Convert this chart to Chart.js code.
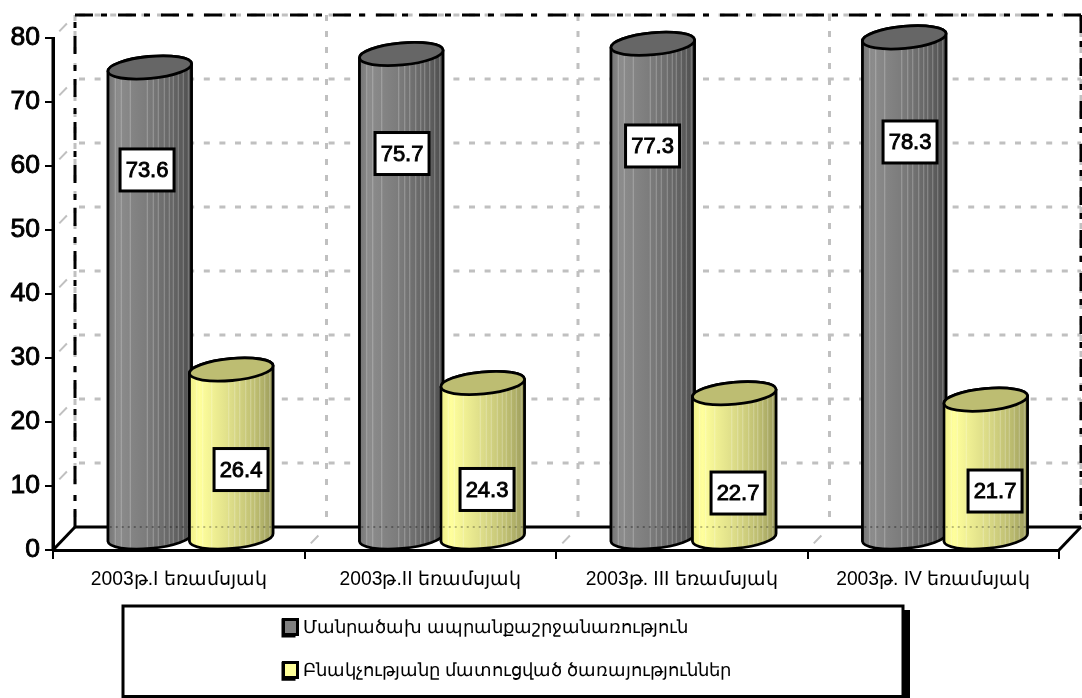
<!DOCTYPE html>
<html><head><meta charset="utf-8">
<style>html,body{margin:0;padding:0;background:#fff;overflow:hidden}canvas{display:block}</style>
<script src="https://cdn.jsdelivr.net/npm/chart.js@4"></script>
</head><body>
<canvas id="c" width="1082" height="698"></canvas>
<script>
const categories = ["2003թ.I եռամսյակ", "2003թ.II եռամսյակ", "2003թ. III եռամսյակ", "2003թ. IV եռամսյակ"];
const seriesNames = ["Մանրածախ ապրանքաշրջանառություն", "Բնակչությանը մատուցված ծառայություններ"];
const retailTrade = [73.6, 75.7, 77.3, 78.3];
const servicesToPopulation = [26.4, 24.3, 22.7, 21.7];
const labelNudges = [
  [[9.8,91],[13.3,88],[12.3,90.7],[18.3,93.1]],
  [[20.8,88.5],[15.3,95],[14.8,88.3],[20.3,79.9]]
];
const stripeOffsets = [7,13,22,39,45,50,56,61,65,70,75,80];
const FONT = '"Liberation Sans","Noto Sans",sans-serif';
const DX = 22, DY = 23;
const themes = [
  {shift:12.5, top:'#666666', stops:[[0,'#747474'],[.12,'#8c8c8c'],[.5,'#7a7a7a'],[.8,'#636363'],[1,'#4e4e4e']], stripe:'rgba(255,255,255,.28)', dots:'rgba(0,0,0,.3)'},
  {shift:11, top:'#bdbd72', stops:[[0,'#eeee88'],[.12,'#ffff9c'],[.5,'#dcdc88'],[.8,'#bcbc70'],[1,'#9c9c5c']], stripe:'rgba(255,255,255,.28)', dots:'rgba(0,0,0,.25)'}
];
function line(ctx,x1,y1,x2,y2){ctx.beginPath();ctx.moveTo(x1,y1);ctx.lineTo(x2,y2);ctx.stroke();}
function drawWalls(chart){
  const ctx=chart.ctx, ys=chart.scales.y, a=chart.chartArea;
  const L=a.left,R=a.right,T=ys.getPixelForValue(80),B=ys.getPixelForValue(0);
  const edges=[L+(R-L)/4,L+(R-L)/2,L+3*(R-L)/4];
  ctx.save();
  ctx.strokeStyle='#c0c0c0';ctx.lineWidth=3;ctx.setLineDash([6,9.6]);
  ys.ticks.forEach(t=>{ if(t.value===0) return; const y=ys.getPixelForValue(t.value)-DY; line(ctx,L+DX+4,y,R+DX,y);});
  ctx.setLineDash([6,10]);
  edges.concat([L,R]).forEach(x=>line(ctx,x+DX,T-DY,x+DX,B-DY));
  ctx.lineWidth=2;ctx.setLineDash([0.1,9,11,30]);
  ys.ticks.forEach(t=>{ if(t.value===0) return; const y=ys.getPixelForValue(t.value); line(ctx,L,y,L+DX,y-DY);});
  edges.forEach(x=>line(ctx,x,B,x+DX,B-DY));
  ctx.strokeStyle='#000';ctx.lineWidth=3;ctx.setLineDash([18,8,6,11]);
  line(ctx,L+DX,T-DY,R+DX,T-DY);
  line(ctx,L+DX,B-DY,L+DX,T-DY);
  line(ctx,R+DX,T-DY,R+DX,B-DY);
  ctx.setLineDash([]);
  line(ctx,L+DX,B-DY,R+DX,B-DY);
  line(ctx,L,B,L+DX,B-DY);
  line(ctx,R,B,R+DX,B-DY);
  line(ctx,L,T,L,B+1);
  ctx.restore();
}
function drawCylinder(ctx,el,th,floorY){
  const rx=el.width/2+.5, ry=11, rot=-5.4*Math.PI/180;
  const cx=el.x+th.shift, yt=el.y-DY/2, yb=el.base-DY/2;
  const body=()=>{ctx.beginPath();ctx.ellipse(cx,yb,rx,ry,rot,0,Math.PI);ctx.ellipse(cx,yt,rx,ry,rot,Math.PI,2*Math.PI);ctx.closePath();};
  ctx.save();
  const g=ctx.createLinearGradient(cx-rx,0,cx+rx,0);
  th.stops.forEach(s=>g.addColorStop(s[0],s[1]));
  body();ctx.fillStyle=g;ctx.fill();
  ctx.save();body();ctx.clip();
  ctx.strokeStyle=th.stripe;ctx.lineWidth=1;
  stripeOffsets.forEach(o=>line(ctx,cx-rx+o+.5,yt,cx-rx+o+.5,yb+ry+2));
  ctx.strokeStyle=th.dots;ctx.lineWidth=2;ctx.setLineDash([2,4]);
  line(ctx,cx-rx+2,floorY,cx+rx,floorY);
  ctx.restore();
  body();ctx.strokeStyle='#000';ctx.lineWidth=2.8;ctx.lineJoin='round';ctx.stroke();
  ctx.beginPath();ctx.ellipse(cx,yt,rx,ry,rot,0,2*Math.PI);
  ctx.fillStyle=th.top;ctx.fill();ctx.stroke();
  ctx.restore();
}
const cylinderPlugin={
  id:'cylinders',
  afterLayout(chart){
    const l=chart.legend;
    l.left=258;l.top=594;l.right=900;l.bottom=900;
  },
  beforeDraw(chart){
    const ctx=chart.ctx;
    ctx.save();
    ctx.fillStyle='#fff';ctx.fillRect(0,0,1082,698);
    ctx.fillStyle='#000';ctx.fillRect(127,610,783,88);
    ctx.fillStyle='#fff';ctx.fillRect(123,606,780,91);
    ctx.strokeStyle='#000';ctx.lineWidth=3;ctx.strokeRect(123,606,780,90.5);
    ctx.restore();
  },
  beforeDatasetsDraw(chart){
    drawWalls(chart);
    const floorY=chart.scales.y.getPixelForValue(0)-DY;
    chart.data.datasets.forEach((d,i)=>chart.getDatasetMeta(i).data.forEach(el=>drawCylinder(chart.ctx,el,themes[i],floorY)));
  },
  beforeDatasetDraw(){return false;},
  afterDatasetsDraw(chart){
    const ctx=chart.ctx;
    ctx.save();
    chart.data.datasets.forEach((d,i)=>chart.getDatasetMeta(i).data.forEach((el,j)=>{
      const cx=el.x+labelNudges[i][j][0], cy=el.y+labelNudges[i][j][1];
      ctx.fillStyle='#fff';ctx.fillRect(cx-27,cy-21,54,42);
      ctx.strokeStyle='#000';ctx.lineWidth=3;ctx.strokeRect(cx-27,cy-21,54,42);
      ctx.fillStyle='#000';ctx.font='22px '+FONT;ctx.textAlign='center';ctx.textBaseline='middle';
      ctx.lineWidth=.9;ctx.strokeText(d.data[j].toFixed(1),cx,cy+1);
      ctx.fillText(d.data[j].toFixed(1),cx,cy+1);
    }));
    ctx.restore();
  },
  afterDraw(chart){
    const ctx=chart.ctx;
    ctx.save();
    chart.legend.legendItems.forEach((it,i)=>{
      const y=619+43*i;
      ctx.fillStyle=it.fillStyle;ctx.fillRect(283,y,15,16);
      ctx.strokeStyle='#000';ctx.lineWidth=3;ctx.strokeRect(283.5,y+.5,14,15);
    });
    ctx.restore();
  }
};
new Chart(document.getElementById('c'),{
  type:'bar',
  data:{labels:categories,datasets:[
    {label:seriesNames[0],data:retailTrade,backgroundColor:'#808080',borderColor:'#000',borderWidth:3},
    {label:seriesNames[1],data:servicesToPopulation,backgroundColor:'#ffff99',borderColor:'#000',borderWidth:3}
  ]},
  options:{
    responsive:false,animation:false,
    layout:{padding:{top:38,right:23,left:0,bottom:0}},
    datasets:{bar:{categoryPercentage:.66,barPercentage:1}},
    plugins:{
      tooltip:{enabled:false},
      legend:{position:'chartArea',align:'start',
        labels:{font:{family:FONT,size:18.2},color:'#000',boxWidth:11,boxHeight:16,padding:25}}
    },
    scales:{
      x:{offset:true,
        afterFit(s){s.height=148;},
        grid:{offset:true,drawOnChartArea:false,drawTicks:true,tickLength:9,color:'#000',lineWidth:2,z:1},
        border:{color:'#000',width:3,z:1},
        ticks:{color:'#000',maxRotation:0,autoSkip:false,padding:9,font:{family:FONT,size:19.3}}
      },
      y:{min:0,max:80,
        afterFit(s){s.width=53;},
        grid:{drawOnChartArea:false,drawTicks:true,tickLength:8,color:'#000',lineWidth:2,z:1},
        border:{color:'#000',width:3,z:1},
        ticks:{stepSize:10,color:'#000',padding:5,textStrokeColor:'#000',textStrokeWidth:.9,font:{family:FONT,size:26.5}}
      }
    }
  },
  plugins:[cylinderPlugin]
});
</script>
</body></html>
